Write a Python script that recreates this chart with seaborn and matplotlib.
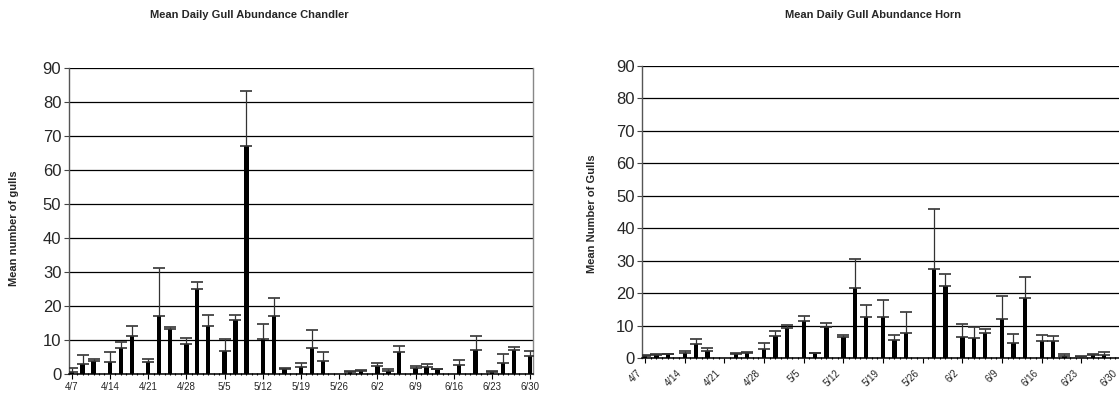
import matplotlib
matplotlib.use("Agg")
import matplotlib.pyplot as plt
import matplotlib.transforms as mtransforms
import seaborn as sns
import pandas as pd
import numpy as np

# ---- data -------------------------------------------------------------
all_days = [f"{d.month}/{d.day}" for d in pd.date_range("2009-04-07", "2009-06-30")]
tick_labels = ["4/7", "4/14", "4/21", "4/28", "5/5", "5/12", "5/19", "5/26",
               "6/2", "6/9", "6/16", "6/23", "6/30"]

chandler_dates = ["4/7", "4/9", "4/11", "4/14", "4/16", "4/18", "4/21", "4/23", "4/25",
                  "4/28", "4/30", "5/2", "5/5", "5/7", "5/9", "5/12", "5/14", "5/16",
                  "5/19", "5/21", "5/23", "5/28", "5/30", "6/2", "6/4", "6/6", "6/9",
                  "6/11", "6/13", "6/17", "6/20", "6/23", "6/25", "6/27", "6/30"]
chandler_mean = [0.7, 3.0, 3.9, 3.6, 7.7, 11.2, 3.6, 17.0, 13.2,
                 8.7, 24.9, 14.1, 6.9, 15.9, 67.0, 10.3, 17.0, 1.4,
                 2.2, 7.7, 3.8, 0.7, 0.8, 2.4, 1.0, 6.6, 1.9,
                 2.2, 1.4, 2.6, 7.1, 0.7, 3.2, 7.1, 5.3]
chandler_err = [1.0, 2.7, 0.4, 3.0, 1.8, 2.9, 0.9, 14.1, 0.6,
                1.9, 2.3, 3.3, 3.5, 1.5, 16.3, 4.4, 5.5, 0.3,
                0.9, 5.2, 2.8, 0.1, 0.3, 0.9, 0.4, 1.7, 0.6,
                0.6, 0.1, 1.6, 4.2, 0.1, 2.6, 0.9, 1.6]

horn_dates = ["4/7", "4/9", "4/11", "4/14", "4/16", "4/18", "4/23", "4/25",
              "4/28", "4/30", "5/2", "5/5", "5/7", "5/9", "5/12", "5/14", "5/16",
              "5/19", "5/21", "5/23", "5/28", "5/30", "6/2", "6/4", "6/6", "6/9",
              "6/11", "6/13", "6/16", "6/18", "6/20", "6/23", "6/25", "6/27"]
horn_mean = [0.8, 1.1, 1.2, 1.7, 4.5, 2.2, 1.3, 1.7,
             2.8, 7.0, 9.4, 11.6, 1.5, 9.5, 6.5, 21.7, 12.6,
             12.8, 5.5, 7.7, 27.4, 22.4, 6.5, 6.2, 7.7, 12.0,
             4.6, 18.5, 5.3, 5.3, 0.7, 0.5, 1.0, 1.0]
horn_err = [0.2, 0.1, 0.2, 0.5, 1.5, 1.1, 0.2, 0.1,
            1.8, 1.5, 1.0, 1.5, 0.2, 1.5, 0.8, 8.8, 3.7,
            5.0, 1.6, 6.7, 18.4, 3.4, 4.1, 3.5, 1.2, 7.2,
            2.8, 6.4, 1.8, 1.5, 0.5, 0.1, 0.2, 0.8]

# ---- style ------------------------------------------------------------
sns.set_style("white")
plt.rcParams["font.family"] = ["Liberation Sans", "DejaVu Sans"]

W, H = 1119, 393
fig = plt.figure(figsize=(W / 100, H / 100), dpi=100)

ax1 = fig.add_axes([69 / W, 19 / H, 464 / W, 306 / H])
ax2 = fig.add_axes([642.3 / W, 34.7 / H, 481.7 / W, 292.5 / H])


def draw(ax, dates, means, errs, rotate):
    df = pd.DataFrame({"date": dates, "mean": means})
    sns.barplot(data=df, x="date", y="mean", order=all_days, color="black",
                saturation=1, width=0.8, errorbar=None, ax=ax, zorder=3,
                edgecolor="black", linewidth=0)
    pos = [all_days.index(d) for d in dates]
    ax.errorbar(pos, means, yerr=[np.zeros(len(errs)), errs], fmt="none",
                ecolor="#333333", elinewidth=0.9, capsize=4.2, capthick=1.2,
                zorder=4)
    ax.set_xlim(-0.5, len(all_days) - 0.5)
    ax.set_ylim(0, 90)
    ax.set_yticks(range(0, 91, 10))
    ax.yaxis.grid(True, color="black", linewidth=0.9, zorder=0)
    ax.xaxis.grid(False)
    ax.set_axisbelow(True)
    ax.tick_params(axis="y", labelsize=12, length=3.5, width=0.8, direction="out",
                   color="#444444", pad=2, left=True)
    major = [all_days.index(t) for t in tick_labels]
    ax.set_xticks(major)
    ax.set_xticks(range(len(all_days)), minor=True)
    ax.tick_params(axis="x", which="major", length=3.5, width=0.8, color="black",
                   direction="out", bottom=True, labelsize=7, pad=2)
    ax.tick_params(axis="x", which="minor", length=2, width=0.8, color="black",
                   direction="inout", bottom=True)
    if rotate:
        labs = ax.set_xticklabels(tick_labels, rotation=45, ha="right", va="center",
                                  rotation_mode="anchor")
        ax.tick_params(axis="x", which="major", pad=6)
        off = mtransforms.ScaledTranslation(-5 / 100, 0, fig.dpi_scale_trans)
        for t in labs:
            t.set_transform(t.get_transform() + off)
    else:
        ax.set_xticklabels(tick_labels)
    ax.set_xlabel("")
    ax.set_ylabel("")
    ax.spines["top"].set_visible(False)
    ax.spines["right"].set_color("#888888")
    ax.spines["right"].set_linewidth(1.0)
    ax.spines["left"].set_color("#555555")
    ax.spines["left"].set_linewidth(1.0)
    ax.spines["bottom"].set_color("black")
    ax.spines["bottom"].set_linewidth(1.1)


draw(ax1, chandler_dates, chandler_mean, chandler_err, rotate=False)
draw(ax2, horn_dates, horn_mean, horn_err, rotate=True)

fig.text(249 / W, 1 - 15 / H, "Mean Daily Gull Abundance Chandler",
         ha="center", va="center", fontsize=8, fontweight="bold")
fig.text(873 / W, 1 - 15 / H, "Mean Daily Gull Abundance Horn",
         ha="center", va="center", fontsize=8, fontweight="bold")
fig.text(14 / W, 1 - 228 / H, "Mean number of gulls", rotation=90,
         ha="center", va="center", fontsize=8, fontweight="bold")
fig.text(592 / W, 1 - 214 / H, "Mean Number of Gulls", rotation=90,
         ha="center", va="center", fontsize=8, fontweight="bold")

fig.savefig("out.png", dpi=100)
